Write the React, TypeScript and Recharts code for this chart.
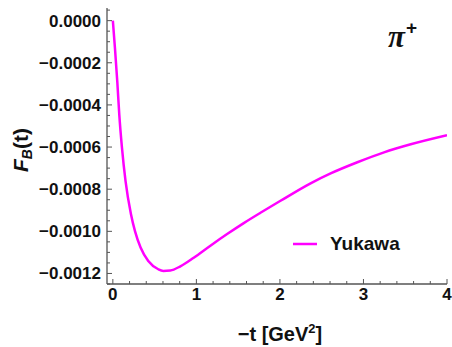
import React from "react";
import { LineChart, Line, XAxis, YAxis, Legend, Customized } from "recharts";

const tValues = [0, 0.025, 0.053, 0.077, 0.109, 0.152, 0.217, 0.265, 0.332, 0.424, 0.544, 0.604, 0.688, 0.808, 0.968, 1.168, 1.368, 1.567, 1.767, 2.007, 2.367, 2.607, 2.927, 3.246, 3.566, 4.0];
const yukawa = [0, -0.000129, -0.000288, -0.000446, -0.000603, -0.000762, -0.000919, -0.000999, -0.001077, -0.001141, -0.00118, -0.001188, -0.001186, -0.001166, -0.001125, -0.001068, -0.001013, -0.000961, -0.000912, -0.000855, -0.000772, -0.000725, -0.000672, -0.000625, -0.000587, -0.000544];
const xMajorTicks = [0, 1, 2, 3, 4];
const yMajorTicks = [0, -0.0002, -0.0004, -0.0006, -0.0008, -0.001, -0.0012];
const seriesName = "Yukawa";

const data = tValues.map((t, i) => ({ t, v: yukawa[i] }));

const xTicks: number[] = [];
for (let i = 0; i <= 20; i++) xTicks.push(+(i * 0.2).toFixed(2));
const yTicks: number[] = [];
for (let i = 1; i >= -25; i--) yTicks.push(+(i * 0.00005).toFixed(6));

const isMajorX = (v: number) => xMajorTicks.some((m) => Math.abs(m - v) < 1e-6);
const isMajorY = (v: number) => yMajorTicks.some((m) => Math.abs(m - v) < 1e-9);

const FONT = "'Liberation Sans', Arial, sans-serif";
const AXIS = "#555";
const MAJ = 5;
const MIN = 3;

const fmtY = (v: number) => (Math.abs(v) < 1e-12 ? "0.0000" : "\u2212" + Math.abs(v).toFixed(4));

const BottomTick = (p: any) => {
  const v = p.payload.value;
  const maj = isMajorX(v);
  return (
    <g>
      <line x1={p.x} x2={p.x} y1={p.y} y2={p.y - (maj ? MAJ : MIN)} stroke={AXIS} strokeWidth={1} />
      {maj && (
        <text x={p.x} y={p.y + 16} textAnchor="middle" fontFamily={FONT} fontWeight="bold" fontSize={17} fill="#111">
          {String(v)}
        </text>
      )}
    </g>
  );
};

const TopTick = (p: any) => {
  const v = p.payload.value;
  const maj = isMajorX(v);
  return <line x1={p.x} x2={p.x} y1={p.y} y2={p.y + (maj ? MAJ : MIN)} stroke={AXIS} strokeWidth={1} />;
};

const LeftTick = (p: any) => {
  const v = p.payload.value;
  const maj = isMajorY(v);
  return (
    <g>
      <line x1={p.x} x2={p.x + (maj ? MAJ : MIN)} y1={p.y} y2={p.y} stroke={AXIS} strokeWidth={1} />
      {maj && (
        <text x={p.x - 6} y={p.y + 6} textAnchor="end" fontFamily={FONT} fontWeight="bold" fontSize={17} fill="#111">
          {fmtY(v)}
        </text>
      )}
    </g>
  );
};

const RightTick = (p: any) => {
  const v = p.payload.value;
  const maj = isMajorY(v);
  return <line x1={p.x} x2={p.x - (maj ? MAJ : MIN)} y1={p.y} y2={p.y} stroke={AXIS} strokeWidth={1} />;
};

const Annotations = () => (
  <g>
    <text x={280} y={341} textAnchor="middle" fontFamily={FONT} fontWeight="bold" fontSize={20} fill="#111">
      <tspan>{"\u2212t [GeV"}</tspan>
      <tspan fontSize={13} dy={-8}>2</tspan>
      <tspan dy={8}>]</tspan>
    </text>
    <text transform="translate(28,150) rotate(-90)" textAnchor="middle" fontFamily={FONT} fontWeight="bold" fontSize={21} fill="#111">
      <tspan fontStyle="italic">F</tspan>
      <tspan fontStyle="italic" fontSize={14} dy={4}>B</tspan>
      <tspan dy={-4}>(t)</tspan>
    </text>
    <text x={388} y={47} fontFamily="'Liberation Serif', 'DejaVu Serif', serif" fontWeight="bold" fontStyle="italic" fontSize={31} fill="#111">
      <tspan>{"\u03C0"}</tspan>
      <tspan fontFamily={FONT} fontStyle="normal" fontSize={19} dy={-13} dx={1}>+</tspan>
    </text>
  </g>
);

const LegendContent = () => (
  <div style={{ display: "flex", alignItems: "center", fontFamily: FONT, fontWeight: "bold", fontSize: 19, color: "#111" }}>
    <svg width={26} height={6} style={{ marginRight: 11 }}>
      <line x1={0} x2={24} y1={3} y2={3} stroke="#FF00FF" strokeWidth={2.5} />
    </svg>
    <span>{seriesName}</span>
  </div>
);

export default function App() {
  return (
    <div style={{ position: "absolute", left: 0, top: 0, width: 452, height: 347, background: "#fff" }}>
      <LineChart width={452} height={347} data={data} margin={{ top: 8, right: 5, bottom: 33, left: 0 }}>
        <XAxis
          xAxisId="b"
          dataKey="t"
          type="number"
          domain={[-0.07, 4.0]}
          ticks={xTicks}
          interval={0}
          allowDataOverflow
          height={30}
          tickSize={0}
          tickMargin={0}
          tickLine={false}
          tick={<BottomTick />}
          axisLine={{ stroke: AXIS, strokeWidth: 1.3 }}
        />
        <XAxis
          xAxisId="top"
          orientation="top"
          dataKey="t"
          type="number"
          domain={[-0.07, 4.0]}
          ticks={xTicks}
          interval={0}
          allowDataOverflow
          height={0}
          tickSize={0}
          tickMargin={0}
          tickLine={false}
          tick={<TopTick />}
          axisLine={{ stroke: AXIS, strokeWidth: 1.3 }}
        />
        <YAxis
          yAxisId="l"
          type="number"
          domain={[-0.00125, 0.00006]}
          ticks={yTicks}
          interval={0}
          allowDataOverflow
          width={107}
          tickSize={0}
          tickMargin={0}
          tickLine={false}
          tick={<LeftTick />}
          axisLine={{ stroke: AXIS, strokeWidth: 1.3 }}
        />
        <YAxis
          yAxisId="r"
          orientation="right"
          type="number"
          domain={[-0.00125, 0.00006]}
          ticks={yTicks}
          interval={0}
          allowDataOverflow
          width={0}
          tickSize={0}
          tickMargin={0}
          tickLine={false}
          tick={<RightTick />}
          axisLine={{ stroke: AXIS, strokeWidth: 1.3 }}
        />
        <Line
          xAxisId="b"
          yAxisId="l"
          type="monotone"
          dataKey="v"
          name={seriesName}
          stroke="#FF00FF"
          strokeWidth={2.5}
          dot={false}
          isAnimationActive={false}
        />
        <Legend
          layout="horizontal"
          verticalAlign="middle"
          align="center"
          content={<LegendContent />}
          wrapperStyle={{ position: "absolute", left: 293, top: 233, width: 130, height: 24 }}
        />
        <Customized component={Annotations} />
      </LineChart>
    </div>
  );
}
